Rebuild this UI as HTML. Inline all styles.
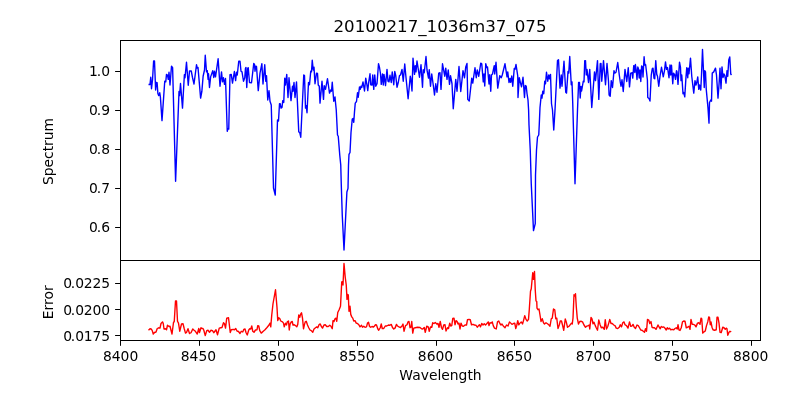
<!DOCTYPE html>
<html><head><meta charset="utf-8"><title>20100217_1036m37_075</title>
<style>
html,body{margin:0;padding:0;background:#fff;}
body{width:800px;height:400px;overflow:hidden;}
svg{display:block;will-change:transform;}
text{font-family:"DejaVu Sans","Liberation Sans",sans-serif;fill:#000;}
.t{font-size:13.89px;}
.ttl{font-size:16.67px;}
</style></head><body>
<svg width="800" height="400" viewBox="0 0 800 400">
<rect x="0" y="0" width="800" height="400" fill="#ffffff"/>
<polyline fill="none" stroke="#0000ff" stroke-width="1.39" stroke-linejoin="round" stroke-linecap="butt" points="148.50,84.50 150.00,84.50 150.75,77.25 151.50,88.75 152.50,80.00 153.62,61.00 154.50,61.00 155.62,90.00 156.38,82.50 157.12,82.75 157.88,93.50 158.75,95.62 159.75,92.75 160.38,96.88 162.00,120.62 164.75,81.25 165.75,81.88 166.50,74.38 167.50,75.25 168.25,79.38 169.00,72.25 170.00,85.00 171.50,66.25 172.62,67.75 175.60,181.25 179.00,91.50 179.62,95.62 180.50,83.50 182.50,108.12 184.38,74.75 185.00,77.75 186.50,62.25 188.25,85.25 189.50,71.00 191.25,71.00 192.50,77.50 194.00,84.00 196.50,64.75 197.25,68.12 198.00,67.50 200.62,98.12 201.88,91.25 203.12,76.25 204.50,70.00 205.25,55.25 206.50,71.88 207.25,70.62 208.12,79.38 208.50,73.75 209.50,87.50 210.62,76.88 211.50,74.38 212.75,70.62 213.75,77.50 214.50,71.25 215.50,76.88 216.25,71.88 218.12,58.75 220.00,86.25 221.50,71.88 222.50,81.88 223.50,77.75 224.50,84.38 225.50,78.50 227.25,131.25 227.88,128.75 228.75,129.00 230.00,74.75 231.25,74.38 232.50,83.12 234.38,71.50 235.62,80.62 236.50,72.25 237.25,75.00 238.75,61.25 240.00,61.25 241.00,71.25 242.00,71.88 243.50,81.25 244.75,77.75 245.50,68.12 246.00,67.50 246.75,87.50 247.75,68.12 248.25,67.75 249.50,82.50 251.50,82.75 253.75,63.50 254.50,64.38 255.00,71.25 255.75,66.25 256.50,66.50 258.25,90.62 260.00,73.12 261.88,63.75 263.00,84.00 264.75,64.75 265.75,81.25 266.50,75.62 267.75,100.00 269.00,90.62 270.00,101.25 271.25,105.00 273.50,188.00 275.25,195.00 277.50,120.00 278.50,121.00 279.50,103.75 280.25,103.75 281.00,108.12 282.00,107.50 282.75,100.62 283.75,102.50 284.75,78.12 285.50,85.00 286.75,74.38 288.00,97.50 289.00,77.75 291.00,100.62 292.50,86.25 293.00,91.25 294.00,82.50 295.00,97.50 296.50,81.88 298.75,131.90 299.75,132.50 300.75,137.20 303.75,75.00 304.50,75.62 305.50,108.12 306.25,105.62 307.00,112.75 308.50,82.50 309.50,84.75 310.75,71.25 311.50,71.88 312.25,60.25 313.25,70.00 314.00,67.25 315.00,83.75 316.50,73.12 317.50,73.50 318.25,85.00 319.25,86.25 320.00,103.12 322.00,81.25 323.50,99.38 324.25,85.62 325.50,89.38 326.25,85.25 327.50,78.75 329.50,93.12 330.75,90.00 331.50,91.25 332.25,82.25 333.75,101.25 335.00,96.88 335.50,102.50 336.25,110.00 337.50,135.00 338.25,136.25 339.75,155.00 340.75,165.00 341.25,183.75 342.25,215.00 344.00,250.00 345.75,215.00 346.90,192.00 348.00,188.40 348.50,165.00 349.00,154.40 350.00,152.50 351.00,132.50 352.25,119.00 353.00,118.50 353.75,122.25 354.50,111.88 355.25,103.12 356.50,101.50 357.50,92.75 358.25,97.25 359.50,86.88 360.25,89.38 361.00,86.25 361.75,87.50 363.00,81.88 364.50,91.00 365.75,78.12 366.75,83.75 367.75,90.62 368.75,81.88 370.00,73.75 370.75,84.75 372.00,85.00 372.75,75.00 373.75,89.38 374.75,75.00 375.75,86.25 377.00,83.75 378.50,63.75 379.50,67.50 380.50,73.75 381.25,84.38 382.50,74.00 383.25,85.00 384.00,74.38 385.50,85.62 387.00,69.38 388.00,81.25 389.00,81.88 390.00,75.25 391.25,82.50 392.25,71.88 393.75,84.75 394.75,71.50 395.75,75.62 397.00,87.25 398.25,82.50 399.50,75.62 400.50,75.00 402.00,69.38 403.25,81.25 404.75,64.00 405.75,75.00 408.12,98.75 410.25,76.25 410.75,78.12 412.00,91.00 413.00,58.12 414.50,74.38 415.25,65.62 416.00,71.88 417.00,61.00 419.50,77.25 421.00,64.75 422.50,87.25 423.25,69.75 424.25,72.75 426.00,56.50 427.00,70.00 428.50,78.12 429.25,69.75 430.50,86.25 431.75,74.00 433.75,88.75 434.50,95.00 435.75,83.75 437.00,92.25 438.75,73.12 440.00,72.75 441.00,89.38 442.50,63.75 443.75,70.62 444.75,76.25 445.75,68.12 447.00,79.38 448.25,70.00 449.50,84.38 450.50,75.62 452.00,83.75 453.25,108.75 455.75,79.38 457.00,91.25 459.00,66.50 460.75,91.50 463.00,70.62 464.50,77.75 465.75,66.88 467.00,63.50 467.75,99.38 469.25,101.00 471.75,78.12 472.75,83.12 475.00,67.75 476.25,77.75 477.25,70.00 478.75,76.25 480.75,63.12 481.75,63.75 483.25,81.88 484.00,74.00 484.75,86.00 485.75,63.75 486.75,67.50 487.50,66.88 489.00,84.00 489.75,74.75 490.75,91.25 491.50,75.00 492.50,74.00 494.25,65.62 494.75,74.00 496.00,62.25 497.75,88.12 499.75,75.62 501.25,77.75 502.25,75.00 505.00,63.75 507.00,76.88 507.75,71.88 509.00,82.50 510.00,78.50 510.75,82.25 511.75,76.00 512.75,86.25 514.25,68.50 515.00,69.38 516.00,64.38 517.75,76.00 518.00,97.50 519.25,77.75 520.50,83.12 521.50,86.88 523.00,77.25 524.50,97.50 525.30,85.50 526.20,86.00 527.00,93.50 528.00,100.00 528.60,110.00 529.00,125.00 530.25,150.00 531.25,183.75 533.50,230.60 535.25,223.70 535.50,175.00 536.50,150.00 537.50,137.00 538.75,135.00 539.25,125.00 540.00,107.50 541.25,95.00 542.00,98.10 542.75,91.25 543.75,93.75 544.75,81.25 545.50,83.75 546.50,72.25 547.75,81.25 548.75,75.00 549.50,78.75 550.50,74.38 551.50,103.75 552.50,110.00 553.75,130.00 555.00,110.00 557.50,60.62 558.50,59.75 560.00,88.12 561.25,75.00 562.00,86.25 564.00,61.25 565.75,92.25 566.50,93.12 568.00,71.50 568.75,73.12 569.75,56.50 571.25,84.75 572.00,81.88 572.75,103.75 575.00,183.75 577.50,110.00 578.60,82.50 579.50,82.50 580.20,98.00 581.00,86.50 581.60,91.00 582.20,87.50 583.25,81.25 584.00,81.88 584.75,60.62 585.50,60.62 586.25,75.00 587.00,69.38 588.50,82.50 589.75,69.38 591.75,107.50 594.50,71.88 595.50,80.62 597.50,60.62 598.80,99.40 600.25,63.75 601.00,63.50 601.75,81.25 603.50,60.62 605.50,84.75 607.00,63.50 608.50,81.25 609.10,95.00 610.20,96.30 611.25,80.62 612.50,87.50 614.00,70.62 614.75,73.12 616.00,72.25 617.75,62.50 619.25,74.75 620.25,81.88 621.00,86.25 622.00,79.75 623.25,91.50 625.00,69.38 626.75,81.50 628.25,67.75 629.50,86.88 630.75,73.12 632.25,72.75 632.75,78.12 633.75,65.62 634.20,66.00 634.80,72.50 635.40,64.50 636.20,70.00 637.00,79.50 637.80,67.00 638.40,68.50 639.20,78.00 640.00,70.00 640.80,81.50 641.60,66.00 642.40,67.00 643.00,77.00 644.10,56.80 644.80,65.00 645.60,64.50 646.40,71.00 647.40,80.00 647.75,97.50 649.00,98.50 650.00,101.00 651.25,75.00 652.25,68.75 653.00,68.12 654.00,78.12 654.75,78.75 655.75,60.62 656.75,74.38 657.50,76.25 658.75,86.25 660.00,76.25 661.50,67.25 663.25,76.88 664.50,70.62 665.50,61.88 666.50,69.38 667.50,67.50 669.00,77.75 670.00,65.00 670.75,75.00 671.50,65.25 672.75,83.75 673.50,73.12 674.50,74.38 675.50,79.38 676.50,70.62 677.00,71.88 678.00,84.38 679.50,62.25 680.50,67.50 681.00,80.62 681.75,75.00 683.00,93.75 683.75,92.50 684.75,96.88 686.00,76.88 686.75,67.75 687.75,77.75 688.25,68.12 689.00,73.75 690.50,58.12 691.75,76.25 693.75,93.12 695.00,80.62 696.00,85.00 696.75,82.50 697.75,76.88 698.75,89.38 699.50,85.00 700.75,90.00 701.50,75.00 702.50,49.50 704.25,87.50 704.75,70.62 705.50,71.88 706.25,89.38 708.00,108.12 709.00,123.12 709.50,102.50 710.75,100.00 711.50,101.25 712.25,73.12 713.75,71.88 715.50,68.12 716.50,75.00 718.00,98.12 719.25,81.25 720.00,68.12 721.00,88.75 722.00,66.88 723.00,77.50 724.00,74.00 724.75,75.25 726.00,83.12 727.00,70.62 727.75,76.25 728.75,60.00 729.75,56.88 730.75,74.00 731.50,75.00"/>
<polyline fill="none" stroke="#ff0000" stroke-width="1.39" stroke-linejoin="round" stroke-linecap="butt" points="148.50,330.25 150.00,328.75 151.25,329.00 152.25,330.62 153.25,334.00 154.50,332.50 156.00,332.00 157.25,328.50 158.75,327.75 160.00,328.12 161.00,323.50 162.50,321.88 163.25,323.50 164.00,329.00 165.50,328.75 166.50,329.75 167.50,325.25 169.00,326.50 170.00,326.25 172.00,334.00 173.50,322.50 174.25,321.50 175.50,301.00 176.50,301.00 177.50,321.25 178.50,323.12 179.75,331.25 181.50,324.00 183.00,323.75 184.25,328.75 185.50,333.12 186.50,332.50 188.00,328.75 189.50,333.50 191.00,332.75 192.75,329.00 193.75,330.00 194.75,330.62 195.75,331.88 197.25,334.00 198.75,328.50 199.50,332.50 201.00,327.75 202.00,328.50 203.00,328.50 203.75,330.00 205.25,335.62 206.75,330.62 208.00,330.25 209.50,332.25 211.00,330.25 212.50,330.62 213.75,332.75 216.00,329.75 217.50,334.75 219.25,328.12 220.75,327.75 222.00,327.50 223.50,322.75 224.50,323.75 225.50,328.12 226.75,318.12 228.50,317.75 230.25,332.50 231.25,329.75 233.25,329.38 234.50,329.75 235.75,328.50 237.00,331.00 238.50,331.50 240.00,333.50 241.25,331.25 242.75,332.00 243.75,329.38 245.00,329.00 246.00,332.50 247.25,335.00 248.75,330.00 249.75,328.75 250.75,329.00 251.75,326.00 252.75,331.25 254.00,332.25 255.50,330.00 257.00,329.75 257.75,325.62 258.75,326.00 259.75,330.62 261.25,333.12 263.25,331.25 265.00,329.75 267.00,327.50 269.00,325.00 270.00,323.12 270.75,326.88 271.75,315.00 273.00,303.75 275.50,289.75 277.00,307.50 277.75,320.62 278.75,317.75 279.75,318.50 280.75,321.00 282.50,321.88 283.50,323.12 284.25,326.88 285.50,323.12 286.50,325.00 287.25,321.88 288.50,321.00 289.25,330.00 290.00,324.38 291.25,321.88 292.25,321.50 293.00,325.00 294.25,324.75 295.50,325.62 296.75,326.88 297.75,324.38 298.75,315.00 299.75,317.25 300.50,314.38 301.50,312.75 302.50,318.12 303.50,328.75 304.50,324.38 305.25,321.88 306.25,321.25 307.50,325.00 308.75,327.75 310.00,330.00 311.25,330.62 312.75,332.25 314.00,329.00 315.50,327.75 316.75,326.88 317.75,327.75 319.25,324.38 320.25,324.00 321.25,326.25 322.50,328.12 324.00,325.00 325.25,324.75 326.75,326.50 328.25,326.50 329.75,325.25 330.75,326.00 332.25,328.75 333.00,320.62 334.00,321.50 335.00,318.75 336.00,318.12 336.75,321.25 337.75,312.50 339.00,310.00 340.50,306.25 341.75,281.90 342.50,281.50 343.00,285.00 344.00,263.50 345.25,277.50 346.25,285.00 347.00,299.40 347.75,294.40 348.30,295.00 349.00,311.25 350.00,306.25 350.75,314.38 351.75,316.88 352.75,318.12 353.75,321.00 355.00,320.62 356.25,323.12 357.50,323.50 359.00,325.00 360.00,326.88 361.50,325.25 362.50,327.25 363.75,326.25 365.00,327.25 366.50,326.88 367.50,323.12 368.50,322.25 369.50,326.25 370.50,327.25 372.00,326.50 373.50,327.00 374.50,326.00 375.50,324.75 376.50,325.00 377.75,328.75 378.75,330.25 380.25,327.75 381.25,324.00 382.25,328.50 383.75,328.50 385.25,326.00 386.75,326.00 388.50,325.00 390.00,325.25 391.25,324.38 392.50,327.50 393.75,329.00 395.00,328.12 396.50,324.38 397.50,326.00 399.00,326.88 400.50,327.50 402.00,326.00 403.00,324.00 404.00,331.25 405.50,325.62 407.00,324.75 408.00,321.88 409.00,321.50 410.00,327.75 411.00,327.25 411.75,321.50 412.75,333.12 413.75,328.12 415.25,327.75 417.50,327.25 420.00,327.50 421.50,328.75 422.75,329.00 424.25,327.50 425.25,332.25 426.75,326.25 428.25,326.88 429.25,331.25 430.50,326.88 431.75,327.25 432.75,322.75 434.00,323.50 435.25,322.50 436.75,324.00 438.00,323.50 439.00,327.25 440.25,321.50 441.50,327.75 442.50,329.38 443.75,325.00 445.00,324.75 446.00,331.00 447.50,327.75 448.50,328.50 449.75,323.12 450.75,326.00 451.75,325.62 452.75,318.50 454.00,318.12 455.00,324.75 456.00,320.62 457.00,321.25 458.00,324.00 459.00,323.12 460.00,329.00 461.00,323.12 462.25,326.00 463.50,326.25 465.00,325.00 466.50,325.00 467.50,319.75 469.00,319.38 470.25,319.75 471.50,324.75 473.00,324.38 474.50,325.00 476.00,325.25 477.25,327.25 478.50,325.62 479.50,324.75 480.50,326.88 481.75,323.50 483.00,325.00 484.25,323.75 485.50,325.00 486.50,324.00 488.25,321.88 489.00,325.62 490.00,322.75 491.25,323.12 492.25,321.88 493.25,325.62 494.50,328.12 496.25,329.00 497.50,321.88 498.75,321.00 500.00,323.75 501.00,325.00 502.00,324.00 503.25,326.00 505.00,327.75 506.50,325.00 508.00,326.00 509.50,321.88 510.75,323.12 512.00,324.38 513.50,323.50 514.75,323.12 515.75,328.50 516.75,325.25 517.75,320.62 518.75,324.75 520.00,323.12 521.25,321.88 522.50,324.00 523.50,320.62 524.75,315.62 526.00,319.38 527.25,321.00 528.50,319.38 529.25,310.00 530.50,291.25 531.25,288.75 532.75,272.75 533.50,279.40 534.50,271.50 535.25,290.00 536.00,301.00 536.75,301.50 537.00,308.12 538.00,309.75 539.00,309.00 540.00,315.00 541.00,321.50 542.25,318.75 543.50,322.75 544.50,324.00 546.00,322.75 547.50,323.75 549.00,325.00 550.00,326.25 551.25,318.75 552.25,318.12 553.50,309.00 554.75,309.75 555.75,318.75 556.75,318.12 558.00,328.50 559.25,325.00 560.25,321.00 561.50,321.00 562.50,325.00 563.75,330.25 565.25,319.00 566.25,321.88 567.50,327.25 569.00,326.25 570.50,324.38 571.50,323.12 572.25,324.00 573.00,318.12 574.00,294.75 574.75,296.00 575.50,293.75 576.25,306.25 577.25,318.12 578.50,324.00 579.75,321.50 581.25,321.25 582.50,321.88 584.00,325.00 585.50,327.25 587.00,326.00 588.25,325.62 589.25,325.00 589.75,329.00 591.00,317.50 592.00,319.00 593.00,323.75 594.00,322.25 595.25,325.62 596.25,327.75 597.50,330.25 598.75,320.00 600.00,324.38 601.25,327.75 602.75,327.25 604.25,329.38 605.25,319.75 606.50,329.00 607.75,326.50 608.75,323.12 609.75,319.38 611.00,323.50 612.25,323.50 613.75,325.00 615.00,325.62 616.25,328.12 617.75,328.50 619.25,327.25 620.25,324.75 621.50,326.88 622.75,322.75 624.00,321.88 625.00,324.75 626.50,325.62 628.00,328.12 629.50,321.88 630.75,326.25 632.00,326.00 633.00,324.38 634.25,327.25 635.50,328.50 637.00,325.00 638.25,325.62 639.50,327.75 640.75,330.00 642.00,330.25 643.25,331.25 644.50,332.25 645.50,328.75 646.50,331.25 647.50,319.38 648.75,320.00 649.75,323.50 651.00,321.50 652.00,327.25 653.25,327.75 654.50,327.75 656.00,329.38 657.00,327.25 658.00,325.00 659.25,327.25 660.25,328.75 661.25,326.50 662.50,327.25 663.75,326.88 665.25,328.50 666.25,330.00 667.25,327.75 668.25,329.00 669.50,328.12 670.75,329.75 672.25,329.38 673.75,329.75 675.00,328.50 676.25,327.75 677.25,329.00 678.00,324.75 679.00,330.00 680.00,330.50 681.25,327.75 682.50,321.88 683.75,321.00 685.00,321.25 686.25,327.75 687.50,327.25 689.00,326.25 690.00,329.38 691.00,319.38 692.25,324.38 693.50,324.38 694.75,325.00 696.00,326.88 697.50,323.12 698.75,322.75 700.00,324.38 701.00,318.12 701.75,318.75 702.75,333.12 704.00,331.88 705.25,331.00 706.50,325.62 707.75,321.88 708.75,316.88 709.50,317.25 710.25,324.75 711.00,321.88 712.00,327.25 713.00,329.75 714.50,330.25 716.25,329.75 717.00,317.25 718.00,317.25 719.00,323.12 720.00,332.25 721.25,332.50 722.75,327.25 724.00,327.75 725.25,329.38 726.25,328.12 727.00,328.75 727.75,335.25 729.00,332.25 730.00,331.25 731.25,331.88"/>
<g fill="none" stroke="#000" stroke-width="1.11" shape-rendering="crispEdges"><rect x="120.5" y="40.5" width="640" height="220"/><rect x="120.5" y="260.5" width="640" height="80"/></g>
<g fill="#000"><rect x="120.00" y="340" width="1" height="5.8"/><rect x="199.00" y="340" width="1" height="5.8"/><rect x="278.00" y="340" width="1" height="5.8"/><rect x="357.00" y="340" width="1" height="5.8"/><rect x="436.00" y="340" width="1" height="5.8"/><rect x="514.00" y="340" width="1" height="5.8"/><rect x="593.00" y="340" width="1" height="5.8"/><rect x="672.00" y="340" width="1" height="5.8"/><rect x="751.00" y="340" width="1" height="5.8"/><rect x="115.1" y="71.00" width="5.4" height="1"/><rect x="115.1" y="110.00" width="5.4" height="1"/><rect x="115.1" y="149.00" width="5.4" height="1"/><rect x="115.1" y="188.00" width="5.4" height="1"/><rect x="115.1" y="227.00" width="5.4" height="1"/><rect x="115.1" y="283.00" width="5.4" height="1"/><rect x="115.1" y="309.00" width="5.4" height="1"/><rect x="115.1" y="335.00" width="5.4" height="1"/></g>
<text class="t" x="120.60" y="361.2" text-anchor="middle">8400</text><text class="t" x="198.40" y="361.2" text-anchor="middle">8450</text><text class="t" x="277.30" y="361.2" text-anchor="middle">8500</text><text class="t" x="356.90" y="361.2" text-anchor="middle">8550</text><text class="t" x="435.50" y="361.2" text-anchor="middle">8600</text><text class="t" x="514.40" y="361.2" text-anchor="middle">8650</text><text class="t" x="593.50" y="361.2" text-anchor="middle">8700</text><text class="t" x="671.40" y="361.2" text-anchor="middle">8750</text><text class="t" x="750.70" y="361.2" text-anchor="middle">8800</text><text class="t" x="110.2" y="75.90" text-anchor="end">1<tspan dx="-1.2">.</tspan><tspan dx="0.3">0</tspan></text><text class="t" x="110.2" y="114.90" text-anchor="end">0<tspan dx="-1.2">.</tspan><tspan dx="0.3">9</tspan></text><text class="t" x="110.2" y="153.90" text-anchor="end">0<tspan dx="-1.2">.</tspan><tspan dx="0.3">8</tspan></text><text class="t" x="110.2" y="192.90" text-anchor="end">0<tspan dx="-1.2">.</tspan><tspan dx="0.3">7</tspan></text><text class="t" x="110.2" y="231.90" text-anchor="end">0<tspan dx="-1.2">.</tspan><tspan dx="0.3">6</tspan></text><text class="t" x="110.2" y="287.90" text-anchor="end">0<tspan dx="-1.2">.</tspan><tspan dx="0.05">0</tspan><tspan dx="-0.4">2</tspan>25</text><text class="t" x="110.2" y="314.80" text-anchor="end">0<tspan dx="-1.2">.</tspan><tspan dx="0.05">0</tspan><tspan dx="-0.4">2</tspan>00</text><text class="t" x="110.2" y="340.80" text-anchor="end">0<tspan dx="-1.2">.</tspan><tspan dx="0.05">0</tspan><tspan dx="-0.4">1</tspan>75</text>
<text class="ttl" x="440" y="32" text-anchor="middle">20100217_1036m37_075</text><text class="t" x="440.5" y="379.5" text-anchor="middle">Wavelength</text><text class="t" transform="translate(53.3,151.5) rotate(-90)" text-anchor="middle">Spectrum</text><text class="t" transform="translate(53.3,302.3) rotate(-90)" text-anchor="middle">Error</text>
</svg>
</body></html>
